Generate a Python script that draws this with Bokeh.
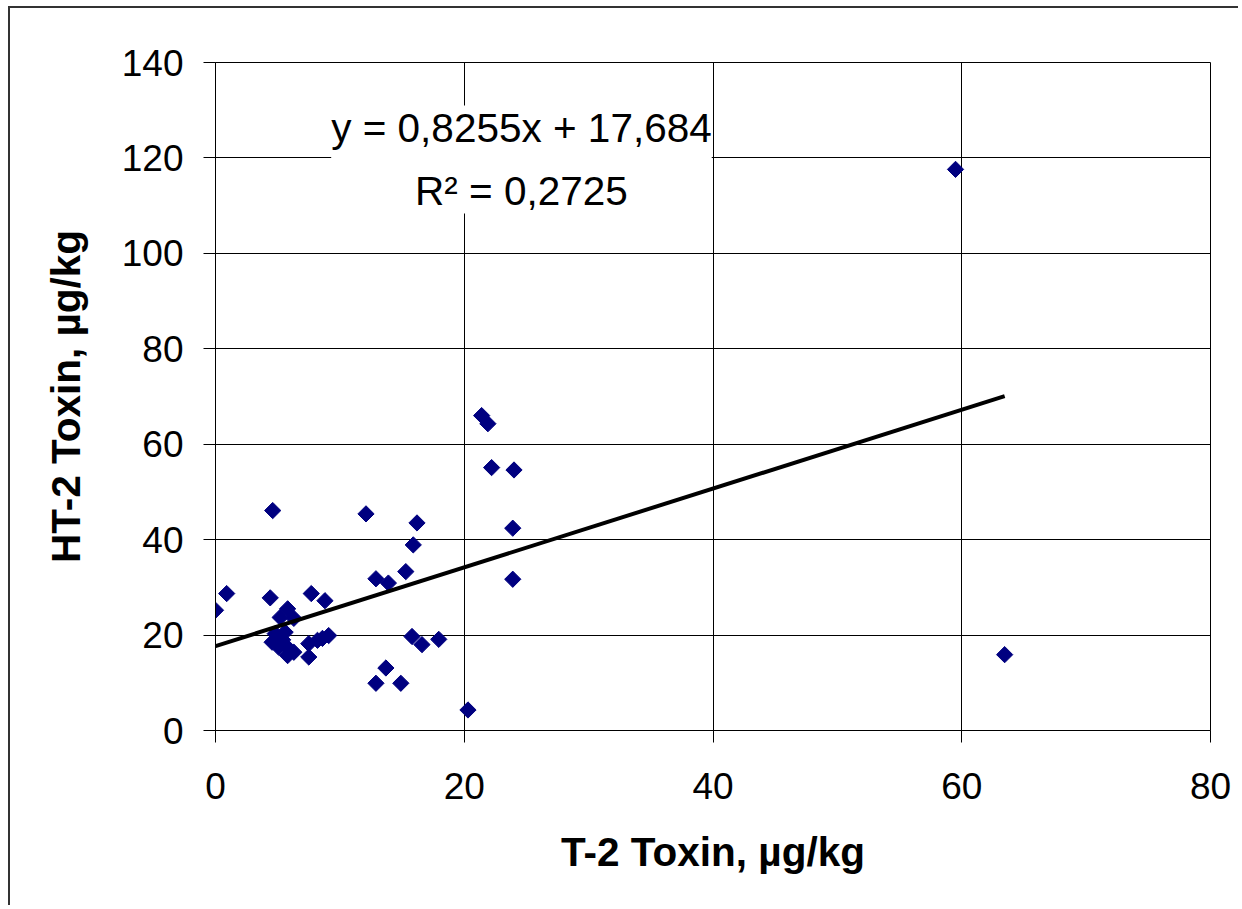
from bokeh.plotting import figure
from bokeh.models import Range1d, FixedTicker, Label, ColumnDataSource
from bokeh.embed import file_html
from bokeh.resources import INLINE
import numpy as np

# --- data ---
t2_toxin = [0.0, 0.9, 4.4, 4.6, 5.8, 6.3, 5.2, 4.8, 5.6, 4.55, 5.1, 5.9, 5.8, 6.3, 5.4,
            7.5, 7.5, 8.2, 9.1, 8.6, 7.7, 8.8,
            12.1, 16.2, 15.9, 15.3, 12.9, 13.9, 15.8, 16.6, 17.95, 13.7, 12.9, 14.9, 20.3,
            21.4, 21.9, 22.2, 24.0, 23.9, 23.9, 59.5, 63.45]
ht2_toxin = [25.2, 28.7, 27.8, 46.1, 25.5, 23.5, 23.7, 20.3, 20.6, 18.5, 17.4, 17.1, 15.7, 16.4, 19.0,
             18.2, 15.4, 18.9, 19.9, 19.3, 28.7, 27.2,
             45.4, 43.5, 38.9, 33.3, 31.8, 30.9, 19.7, 18.0, 19.1, 13.1, 9.9, 9.9, 4.3,
             66.0, 64.3, 55.1, 54.6, 42.4, 31.7, 117.6, 15.9]
slope = 0.8255
intercept = 17.684
equation_text = "y = 0,8255x + 17,684\nR\u00b2 = 0,2725"
x_ticks = [0, 20, 40, 60, 80]
y_ticks = [0, 20, 40, 60, 80, 100, 120, 140]
x_title = "T-2 Toxin, \u00b5g/kg"
y_title = "HT-2 Toxin, \u00b5g/kg"

FONT = "Liberation Sans"

p = figure(width=1230, height=899, output_backend="svg", toolbar_location=None,
           x_range=Range1d(0, 80), y_range=Range1d(0, 140),
           min_border_left=205, min_border_right=30, min_border_top=54, min_border_bottom=177)
p.background_fill_color = "white"
p.border_fill_color = "white"
p.outline_line_color = "black"
p.outline_line_width = 1
p.styles = {"margin-left": "8px", "margin-top": "6px",
            "border-left": "2px solid #333333", "border-top": "2px solid #333333"}

for ax in (p.xaxis, p.yaxis):
    ax.axis_line_color = "black"
    ax.axis_line_width = 1
    ax.major_tick_line_color = "black"
    ax.major_tick_out = 12
    ax.major_tick_in = 0
    ax.minor_tick_line_color = None
    ax.major_label_text_font = FONT
    ax.major_label_text_font_size = "37px"
    ax.major_label_text_color = "black"
    ax.axis_label_text_font = FONT
    ax.axis_label_text_font_size = "40.5px"
    ax.axis_label_text_font_style = "bold"
    ax.axis_label_text_color = "black"

p.xaxis.ticker = FixedTicker(ticks=x_ticks)
p.yaxis.ticker = FixedTicker(ticks=y_ticks)
p.xaxis.axis_label = x_title
p.yaxis.axis_label = y_title
p.xaxis.major_label_standoff = 30
p.yaxis.major_label_standoff = 20
p.xaxis.axis_label_standoff = 27
p.yaxis.axis_label_standoff = 30

p.xgrid.ticker = FixedTicker(ticks=x_ticks)
p.ygrid.ticker = FixedTicker(ticks=y_ticks)
for g in (p.xgrid, p.ygrid):
    g.grid_line_color = "black"
    g.grid_line_width = 1

src = ColumnDataSource(dict(x=t2_toxin, y=ht2_toxin))
p.scatter("x", "y", source=src, marker="square", angle=np.pi / 4, size=11.5,
          fill_color="#000080", line_color="#000080")

xs = np.array([min(t2_toxin), max(t2_toxin)])
p.line(xs, slope * xs + intercept, line_color="black", line_width=4)

lab = Label(x=24.6, y=131.0, text=equation_text, text_align="center", text_baseline="top",
            text_font=FONT, text_font_size="40.5px", text_color="black", text_line_height=1.35,
            background_fill_color="white")
p.add_layout(lab)

open("out.html", "w").write(file_html(p, INLINE))
